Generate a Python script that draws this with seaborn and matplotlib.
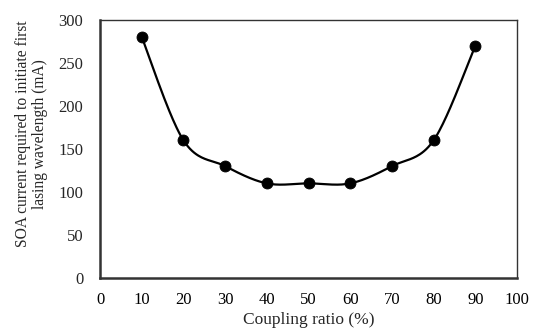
import numpy as np
import pandas as pd
import matplotlib
matplotlib.use("Agg")
import matplotlib.pyplot as plt
import seaborn as sns

coupling_ratio = [10, 20, 30, 40, 50, 60, 70, 80, 90]
soa_current = [280, 160, 130, 110, 110, 110, 130, 160, 270]
x_ticks = [0, 10, 20, 30, 40, 50, 60, 70, 80, 90, 100]
y_ticks = [0, 50, 100, 150, 200, 250, 300]

sns.set_style("white")
plt.rcParams['font.family'] = ['Liberation Serif', 'DejaVu Serif']


def catmull_rom(x, y, n=40):
    x = np.asarray(x, float)
    y = np.asarray(y, float)
    px = np.concatenate([[x[0]], x, [x[-1]]])
    py = np.concatenate([[y[0]], y, [y[-1]]])
    xs, ys = [], []
    t = np.linspace(0, 1, n)
    for i in range(1, len(px) - 2):
        p0x, p1x, p2x, p3x = px[i - 1], px[i], px[i + 1], px[i + 2]
        p0y, p1y, p2y, p3y = py[i - 1], py[i], py[i + 1], py[i + 2]
        c1x = p1x + (p2x - p0x) / 6
        c1y = p1y + (p2y - p0y) / 6
        c2x = p2x - (p3x - p1x) / 6
        c2y = p2y - (p3y - p1y) / 6
        bx = (1 - t) ** 3 * p1x + 3 * (1 - t) ** 2 * t * c1x + 3 * (1 - t) * t ** 2 * c2x + t ** 3 * p2x
        by = (1 - t) ** 3 * p1y + 3 * (1 - t) ** 2 * t * c1y + 3 * (1 - t) * t ** 2 * c2y + t ** 3 * p2y
        xs.append(bx)
        ys.append(by)
    return np.concatenate(xs), np.concatenate(ys)


sx, sy = catmull_rom(coupling_ratio, soa_current)
smooth = pd.DataFrame({"x": sx, "y": sy})
pts = pd.DataFrame({"x": coupling_ratio, "y": soa_current})

fig = plt.figure(figsize=(5.38, 3.31), dpi=100)
ax = fig.add_axes([0.186, 0.160, 0.775, 0.780])

sns.lineplot(data=smooth, x="x", y="y", ax=ax, color="black", linewidth=1.6,
             sort=False, estimator=None)
sns.scatterplot(data=pts, x="x", y="y", ax=ax, color="black", s=62,
                edgecolor="black", zorder=3)

ax.set_xlim(0, 100)
ax.set_ylim(0, 300)
ax.set_xticks(x_ticks)
ax.set_yticks(y_ticks)
ax.tick_params(axis="x", direction="in", length=4, width=1.2, colors="#333333",
               labelcolor="black", labelsize=12, pad=10)
ax.tick_params(axis="y", length=0, labelsize=12, pad=12)

for side in ["left", "bottom"]:
    ax.spines[side].set_linewidth(1.8)
    ax.spines[side].set_color("#333333")
for side in ["top", "right"]:
    ax.spines[side].set_linewidth(1.0)
    ax.spines[side].set_color("#333333")

ax.set_xlabel("Coupling ratio (%)", fontsize=12.5, labelpad=3)
ax.set_ylabel("SOA current required to initiate first\nlasing wavelength (mA)",
              fontsize=11.2, linespacing=1.1)
ax.yaxis.set_label_coords(-0.125, 0.558)

fig.savefig("out.png", dpi=100)
